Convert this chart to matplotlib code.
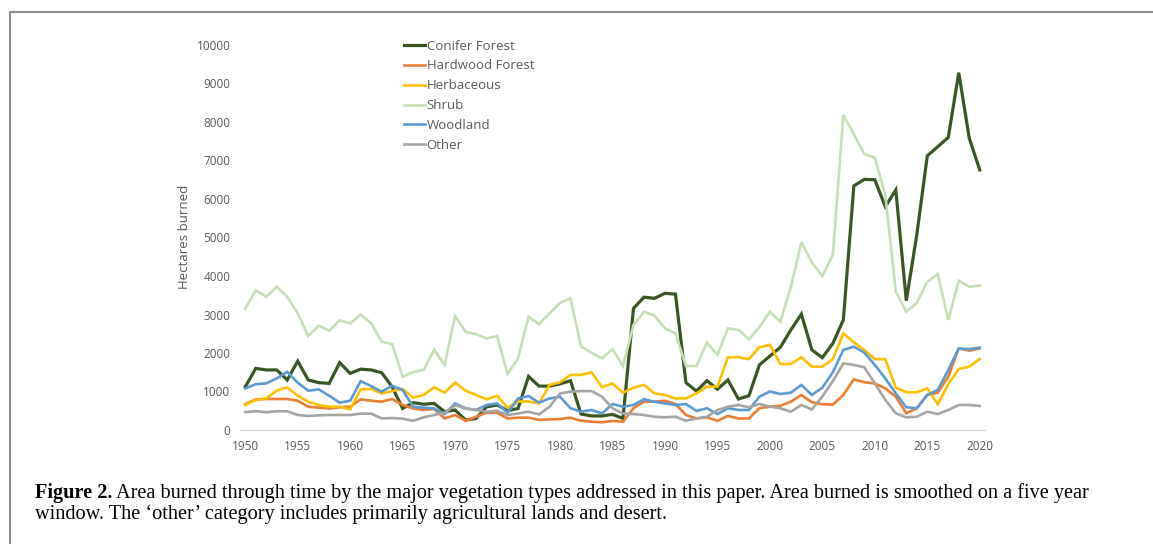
import numpy as np
import matplotlib
matplotlib.use("Agg")
import matplotlib.pyplot as plt
from matplotlib.lines import Line2D

# Data (hectares burned, 5-year smoothed)
years = np.arange(1950, 2021)

conifer = [1120, 1600, 1560, 1560, 1300, 1790, 1300, 1230, 1210, 1750,
           1470, 1580, 1560, 1490, 1120, 560, 710, 670, 690, 475,
           520, 260, 300, 600, 650, 500, 560, 1390, 1140, 1140,
           1200, 1280, 415, 365, 365, 405, 300, 3160, 3450, 3420,
           3550, 3530, 1230, 1010, 1280, 1060, 1300, 805, 890, 1690,
           1920, 2150, 2600, 3010, 2080, 1880, 2250, 2860, 6340, 6510,
           6500, 5800, 6235, 3360, 5070, 7120, 7360, 7600, 9280, 7580,
           6755]
hardwood = [675, 795, 805, 805, 805, 760, 605, 580, 560, 590,
            605, 795, 760, 735, 805, 650, 560, 520, 545, 300,
            390, 240, 345, 450, 450, 300, 320, 320, 260, 275,
            285, 320, 240, 215, 200, 235, 215, 565, 735, 735,
            760, 675, 390, 300, 330, 240, 365, 300, 300, 565,
            605, 630, 735, 910, 720, 670, 660, 910, 1315, 1240,
            1210, 1080, 865, 435, 565, 910, 970, 1385, 2120, 2060,
            2120]
herbaceous = [650, 780, 820, 1020, 1110, 890, 735, 650, 605, 605,
              535, 1055, 1065, 950, 1010, 1065, 840, 910, 1110, 970,
              1230, 1020, 910, 800, 890, 580, 740, 740, 690, 1170,
              1240, 1430, 1430, 1500, 1110, 1210, 970, 1100, 1170, 950,
              910, 820, 820, 950, 1125, 1125, 1890, 1890, 1840, 2150,
              2210, 1715, 1715, 1890, 1645, 1645, 1840, 2510, 2280, 2080,
              1840, 1840, 1100, 980, 980, 1080, 670, 1190, 1585, 1645,
              1845]
shrub = [3150, 3630, 3460, 3720, 3460, 3030, 2440, 2710, 2580, 2850,
         2770, 3000, 2770, 2290, 2230, 1380, 1510, 1560, 2090, 1690,
         2960, 2550, 2490, 2380, 2440, 1460, 1860, 2940, 2750, 3030,
         3300, 3420, 2165, 2010, 1860, 2100, 1660, 2730, 3070, 2970,
         2640, 2510, 1660, 1660, 2270, 1950, 2640, 2600, 2355, 2670,
         3070, 2815, 3720, 4880, 4350, 4000, 4550, 8180, 7680, 7170,
         7070, 6100, 3590, 3070, 3300, 3850, 4050, 2860, 3880, 3720,
         3750]
woodland = [1080, 1190, 1210, 1340, 1510, 1230, 1020, 1055, 890, 710,
            760, 1270, 1140, 995, 1150, 1040, 605, 580, 560, 415,
            690, 560, 520, 650, 690, 450, 820, 880, 710, 820,
            865, 565, 475, 520, 430, 675, 605, 650, 800, 735,
            690, 650, 675, 495, 565, 415, 565, 520, 520, 865,
            1000, 935, 970, 1170, 910, 1100, 1500, 2080, 2165, 2010,
            1690, 1340, 950, 590, 565, 910, 1040, 1560, 2120, 2100,
            2140]
other = [465, 490, 460, 490, 485, 390, 365, 380, 390, 390,
         390, 425, 425, 300, 310, 295, 240, 330, 390, 450,
         640, 560, 520, 475, 500, 390, 430, 475, 405, 605,
         950, 995, 1010, 1010, 865, 565, 430, 415, 390, 345,
         330, 345, 240, 300, 345, 520, 605, 650, 590, 675,
         605, 565, 475, 650, 535, 870, 1270, 1730, 1690, 1630,
         1210, 780, 435, 330, 345, 475, 415, 520, 650, 650,
         625]

labels = ["Conifer Forest", "Hardwood Forest", "Herbaceous", "Shrub", "Woodland", "Other"]
colors = ["#385723", "#ED7D31", "#FFC000", "#C5E0B4", "#5B9BD5", "#A5A5A5"]
series = [conifer, hardwood, herbaceous, shrub, woodland, other]

W, H = 1153, 544
fig = plt.figure(figsize=(W / 100, H / 100), dpi=100)
ax = fig.add_axes([240 / W, (H - 430) / H, 745 / W, 385 / H])

for vals, lab, col in zip(series, labels, colors):
    lw = 2.3 if lab == "Conifer Forest" else 1.9
    ax.plot(years, vals, color=col, lw=lw, label=lab, solid_joinstyle="miter")

ax.set_xlim(1949.5, 2020.5)
ax.set_ylim(0, 10000)
ax.set_xticks(np.arange(1950, 2021, 5))
ax.set_yticks(np.arange(0, 10001, 1000))
for s in ["top", "right", "left"]:
    ax.spines[s].set_visible(False)
ax.spines["bottom"].set_color("#D9D9D9")
ax.spines["bottom"].set_linewidth(1)
ax.tick_params(length=0, labelsize=8.5, labelcolor="#595959", pad=7)
for t in ax.get_xticklabels() + ax.get_yticklabels():
    t.set_family("Open Sans")

fig.text(185 / W, (H - 237) / H, "Hectares burned", rotation=90, ha="center", va="center",
         fontsize=9.5, color="#595959", family="Open Sans")

leg = ax.legend(loc="upper left", bbox_to_anchor=(397 / W, (H - 33) / H),
                bbox_transform=fig.transFigure, frameon=False, borderpad=0,
                handlelength=1.6, handletextpad=0.15, labelspacing=0.52,
                prop={"family": "Open Sans", "size": 9.5})
for t in leg.get_texts():
    t.set_color("#595959")

# frame around the figure (top and left edges visible)
fig.add_artist(Line2D([10 / W, 10 / W, 1], [0, (H - 12) / H, (H - 12) / H],
                      transform=fig.transFigure, color="#8C8C8C", lw=1.5))

# caption
cap_x = 35 / W
cap_fs = 14.6
t1 = fig.text(cap_x, (H - 498) / H, "Figure 2.", fontsize=cap_fs, weight="bold",
              family="Liberation Serif", va="baseline")
fig.canvas.draw()
bb = t1.get_window_extent(fig.canvas.get_renderer())
fig.text((bb.x1 + 4) / W, (H - 498) / H,
         "Area burned through time by the major vegetation types addressed in this paper. "
         "Area burned is smoothed on a five year",
         fontsize=cap_fs, family="Liberation Serif", va="baseline")
fig.text(cap_x, (H - 519) / H,
         "window. The \u2018other\u2019 category includes primarily agricultural lands and desert.",
         fontsize=cap_fs, family="Liberation Serif", va="baseline")

fig.savefig("out.png", dpi=100)
